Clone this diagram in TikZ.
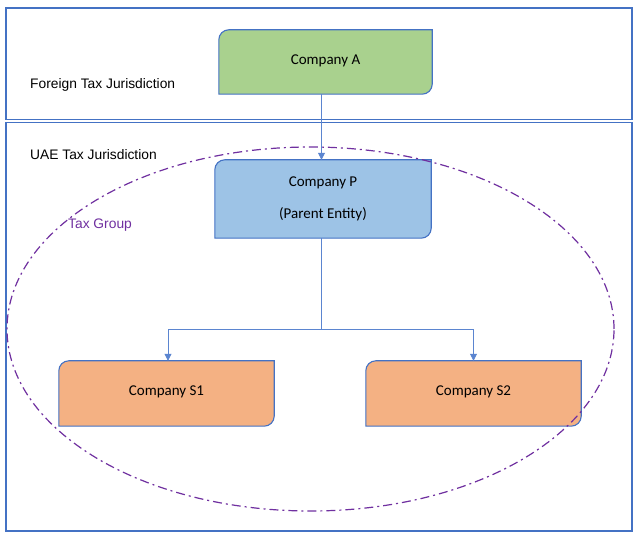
\documentclass[tikz,border=0pt]{standalone}
\usepackage{fontspec}
\setmainfont{Carlito}
\newfontfamily\arialf{Liberation Sans}
\usetikzlibrary{arrows.meta,backgrounds}
\definecolor{frameblue}{HTML}{4472C4}
\definecolor{linkblue}{HTML}{5B85D0}
\definecolor{fillA}{HTML}{A9D18E}
\definecolor{fillP}{HTML}{9DC3E6}
\definecolor{fillS}{HTML}{F4B183}
\definecolor{grpurple}{HTML}{7030A0}
\newcommand\diagshape[2]{%
  \filldraw[boxline, fill=#2] (#1.south west) -- ([yshift=-10pt]#1.north west)
    arc[start angle=180, end angle=90, radius=10pt] -- (#1.north east)
    -- ([yshift=10pt]#1.south east)
    arc[start angle=0, end angle=-90, radius=10pt] -- cycle;}
\begin{document}
\begin{tikzpicture}[x=1pt,y=1pt,
  frame/.style={draw=frameblue, line width=1.6pt},
  boxline/.style={draw=frameblue, line width=1.1pt},
  company/.style={inner sep=0pt, font=\fontsize{15}{18}\selectfont, align=center},
  juris/.style={anchor=west, inner sep=0pt, font=\arialf\fontsize{13.8}{16}\selectfont},
  link/.style={draw=linkblue, line width=0.8pt},
  arr/.style={link, -{Triangle[width=7pt,length=7pt]}},
  group/.style={draw=grpurple, line width=1.2pt, dash pattern=on 9pt off 4pt on 2pt off 4pt}]
\useasboundingbox (0,0) rectangle (640,-534);
% frames
\draw[frame] (6,-8) rectangle (632,-119.5);
\draw[frame] (6,-122.5) rectangle (632,-531);
% labels
\node[juris] (fj) at (30,-85) {Foreign Tax Jurisdiction};
\node[juris] (uj) at (30,-155) {UAE Tax Jurisdiction};
\node[juris, text=grpurple] (tg) at (68,-225) {Tax Group};
% companies
\node[company, minimum width=213pt, minimum height=64pt] (A) at (325.5,-62) {\raisebox{5pt}{Company A}};
\node[company, minimum width=216pt, minimum height=78pt] (P) at (323,-199) {\raisebox{3.5pt}{\begin{tabular}{c}Company P\\[14pt](Parent Entity)\end{tabular}}};
\node[company, minimum width=215pt, minimum height=65pt] (S1) at (166.5,-393.5) {\raisebox{5.5pt}{Company S1}};
\node[company, minimum width=215pt, minimum height=65pt] (S2) at (473.5,-393.5) {\raisebox{5.5pt}{Company S2}};
\begin{pgfonlayer}{background}
\fill[white] (0,0) rectangle (640,-534);
\diagshape{A}{fillA}
\diagshape{P}{fillP}
\diagshape{S1}{fillS}
\diagshape{S2}{fillS}
\end{pgfonlayer}
% connectors
\coordinate (J) at (321.5,-329);
\draw[arr] ([xshift=-4pt]A.south) -- (P.north -| J);
\draw[link] (P.south -| J) -- (J);
\draw[arr] (J) -| ([xshift=1.5pt]S1.north);
\draw[arr] (J) -| (S2.north);
% tax group
\draw[group] (310.5,-329) ellipse[x radius=303.5, y radius=182];
\end{tikzpicture}
\end{document}
